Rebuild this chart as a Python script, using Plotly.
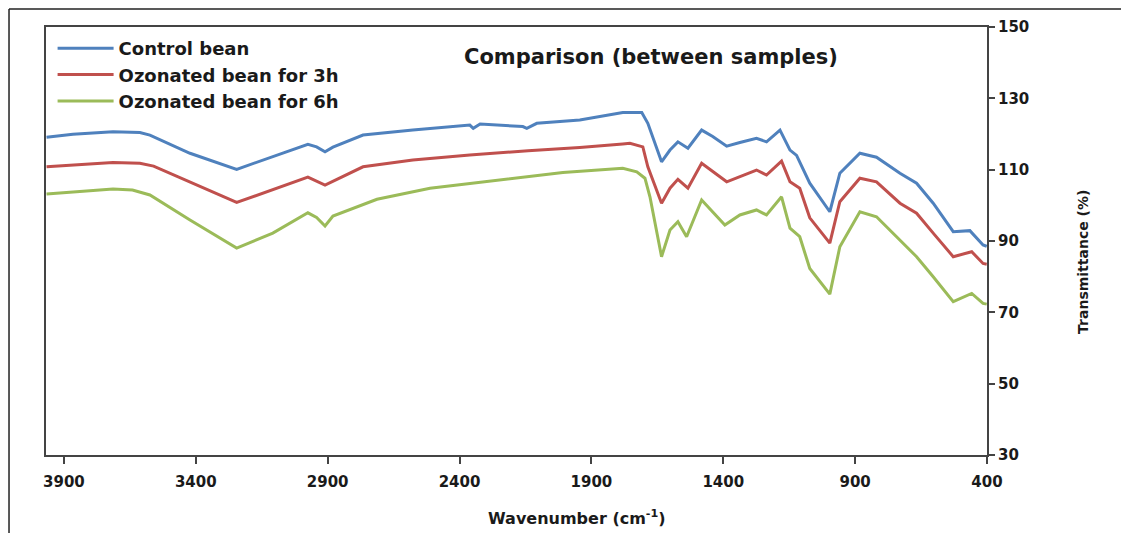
import plotly.graph_objects as go

# ---- data ----
series_names = ["Control bean", "Ozonated bean for 3h", "Ozonated bean for 6h"]

control_wn = [3966, 3866, 3714, 3612, 3574, 3422, 3245, 3108, 2975, 2942, 2910, 2880,
              2766, 2577, 2361, 2348, 2322, 2160, 2145, 2107, 1944, 1781, 1709, 1686,
              1634, 1602, 1572, 1534, 1482, 1440, 1387, 1337, 1274, 1236, 1185, 1147,
              1122, 1072, 996, 958, 882, 819, 730, 667, 604, 528, 465, 415, 401]
control_t = [119.1, 119.9, 120.6, 120.4, 119.7, 114.6, 110.1, 113.6, 117.1, 116.4, 115.0, 116.3,
             119.7, 121.1, 122.5, 121.6, 122.8, 122.1, 121.6, 123.0, 123.9, 126.0, 126.0, 123.0,
             112.2, 115.5, 117.8, 116.0, 121.1, 119.3, 116.6, 117.6, 118.8, 117.8, 121.1, 115.5,
             114.0, 106.2, 98.2, 109.0, 114.6, 113.5, 109.0, 106.2, 100.6, 92.6, 92.9, 88.9, 88.5]

oz3_wn = [3966, 3714, 3612, 3560, 3245, 2975, 2910, 2854, 2766, 2577, 2361, 2140, 1944,
          1781, 1754, 1705, 1686, 1634, 1602, 1572, 1534, 1482, 1440, 1387, 1274, 1236,
          1179, 1147, 1110, 1072, 996, 958, 882, 819, 730, 667, 604, 528, 458, 415, 401]
oz3_t = [110.8, 112.0, 111.8, 111.0, 100.8, 107.9, 105.7, 107.6, 110.8, 112.7, 114.1, 115.3, 116.2,
         117.2, 117.4, 116.4, 110.8, 100.6, 104.8, 107.3, 104.8, 111.8, 109.4, 106.6, 109.9, 108.5,
         112.4, 106.6, 104.8, 96.5, 89.4, 101.0, 107.6, 106.6, 100.6, 97.8, 92.2, 85.6, 87.0, 83.7, 83.5]

oz6_wn = [3966, 3714, 3640, 3574, 3422, 3245, 3108, 2975, 2942, 2910, 2880, 2713, 2512,
          2258, 2008, 1781, 1728, 1697, 1678, 1634, 1602, 1572, 1539, 1482, 1440, 1394,
          1337, 1274, 1236, 1179, 1147, 1110, 1072, 996, 958, 882, 819, 730, 667, 604,
          528, 458, 415, 401]
oz6_t = [103.2, 104.6, 104.3, 102.9, 95.9, 88.0, 92.2, 97.9, 96.6, 94.2, 97.0, 101.7, 104.8,
         107.1, 109.2, 110.4, 109.4, 107.6, 102.4, 85.6, 93.1, 95.4, 91.2, 101.5, 98.2, 94.5,
         97.3, 98.7, 97.3, 102.4, 93.6, 91.2, 82.3, 75.1, 88.4, 98.2, 96.8, 90.3, 85.6, 80.0,
         73.0, 75.3, 72.5, 72.3]

x_ticks = [3900, 3400, 2900, 2400, 1900, 1400, 900, 400]
y_ticks = [30, 50, 70, 90, 110, 130, 150]

colors = ["#4F81BD", "#C0504D", "#9BBB59"]

FONT = "DejaVu Sans"
TXT = "#1a1a1a"

fig = go.Figure()
for name, xs, ys, c in zip(series_names, [control_wn, oz3_wn, oz6_wn],
                           [control_t, oz3_t, oz6_t], colors):
    fig.add_trace(go.Scatter(x=xs, y=ys, mode="lines", name=name,
                             line=dict(color=c, width=3)))

fig.update_layout(
    width=1121, height=525,
    margin=dict(l=38, r=142, t=19, b=78),
    paper_bgcolor="white", plot_bgcolor="white",
    font=dict(family=FONT, color=TXT),
    showlegend=True,
    legend=dict(x=0.007, y=0.993, xanchor="left", yanchor="top",
                bgcolor="rgba(0,0,0,0)", borderwidth=0,
                font=dict(family=FONT, size=18, weight="bold", color=TXT),
                itemwidth=56, tracegroupgap=0),
    xaxis=dict(range=[3968, 400], tickvals=x_ticks, ticktext=[str(v) for v in x_ticks],
               showgrid=False, zeroline=False, showline=True, linecolor="#444",
               linewidth=1.5, mirror=True, ticks="outside", ticklen=7, tickwidth=1.5,
               tickcolor="#444", ticklabelstandoff=5, automargin=False,
               tickfont=dict(family=FONT, size=15, weight="bold", color=TXT)),
    yaxis=dict(range=[30, 150], tickvals=y_ticks, side="right", automargin=False,
               showgrid=False, zeroline=False, showline=True, linecolor="#444",
               linewidth=2, mirror=True, ticks="outside", ticklen=6, tickwidth=1.5,
               tickcolor="#444",
               tickfont=dict(family=FONT, size=15, weight="bold", color=TXT)),
    annotations=[
        dict(text="Comparison (between samples)", xref="paper", yref="paper",
             x=0.643, y=0.930, showarrow=False, xanchor="center", yanchor="middle",
             font=dict(family=FONT, size=21, weight="bold", color=TXT)),
        dict(text="Wavenumber (cm<sup>-1</sup>)", xref="paper", yref="paper",
             x=0.564, y=-0.147, showarrow=False, xanchor="center", yanchor="middle",
             font=dict(family=FONT, size=16, weight="bold", color=TXT)),
        dict(text="Transmittance (%)", xref="paper", yref="paper",
             x=1.102, y=0.451, showarrow=False, textangle=-90,
             xanchor="center", yanchor="middle",
             font=dict(family=FONT, size=14, weight="bold", color=TXT)),
    ],
    shapes=[
        dict(type="line", xref="paper", yref="paper", x0=-0.0393, x1=-0.0393,
             y0=1.042, y1=-0.3, line=dict(color="#222", width=1.5)),
        dict(type="line", xref="paper", yref="paper", x0=-0.0393, x1=1.3,
             y0=1.042, y1=1.042, line=dict(color="#222", width=1.5)),
    ],
)

fig.write_html("out.html")
